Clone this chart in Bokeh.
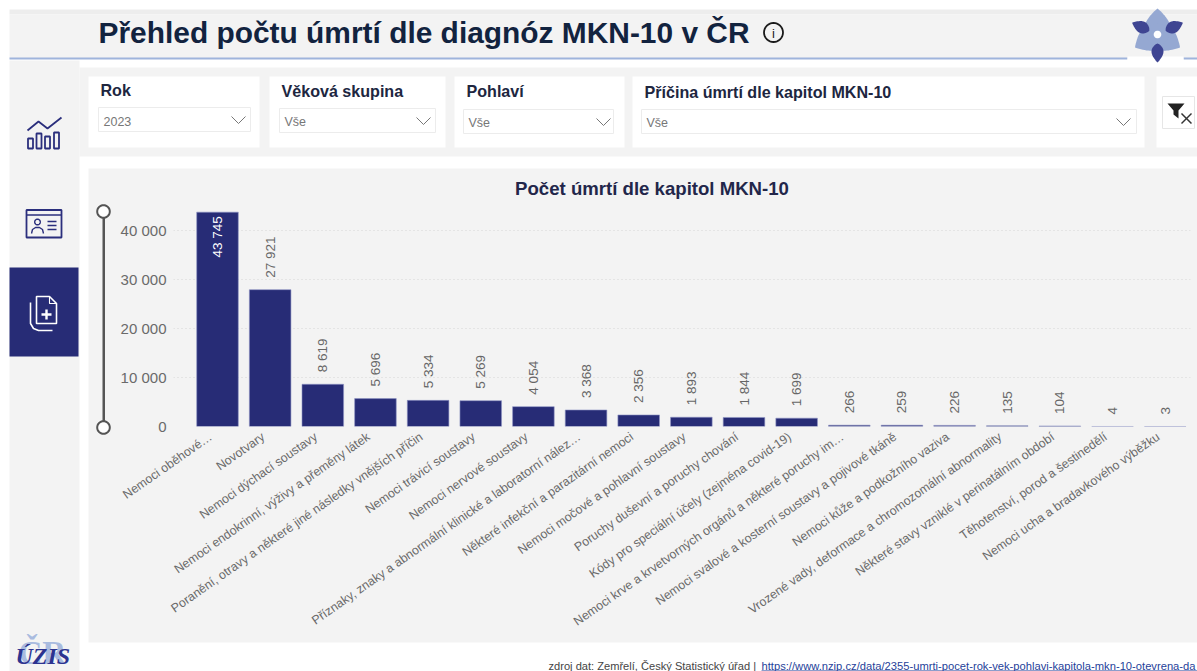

import math
from bokeh.embed import file_html
from bokeh.layouts import column
from bokeh.resources import INLINE
from bokeh.plotting import figure
from bokeh.models import ColumnDataSource, FixedTicker, Range1d, CustomJSTickFormatter
from bokeh.core.properties import value

categories = ["Nemoci oběhové…", "Novotvary", "Nemoci dýchací soustavy", "Nemoci endokrinní, výživy a přeměny látek",
              "Poranění, otravy a některé jiné následky vnějších příčin", "Nemoci trávicí soustavy", "Nemoci nervové soustavy",
              "Příznaky, znaky a abnormální klinické a laboratorní nález…", "Některé infekční a parazitární nemoci",
              "Nemoci močové a pohlavní soustavy", "Poruchy duševní a poruchy chování", "Kódy pro speciální účely (zejména covid-19)",
              "Nemoci krve a krvetvorných orgánů a některé poruchy im…", "Nemoci svalové a kosterní soustavy a pojivové tkáně",
              "Nemoci kůže a podkožního vaziva", "Vrozené vady, deformace a chromozomální abnormality",
              "Některé stavy vzniklé v perinatálním období", "Těhotenství, porod a šestinedělí", "Nemoci ucha a bradavkového výběžku"]
deaths = [43745, 27921, 8619, 5696, 5334, 5269, 4054, 3368, 2356, 1893, 1844, 1699, 266, 259, 226, 135, 104, 4, 3]
y_ticks = [0, 10000, 20000, 30000, 40000]
title = "Přehled počtu úmrtí dle diagnóz MKN-10 v ČR"
chart_title = "Počet úmrtí dle kapitol MKN-10"
filters = ["Rok", "Věková skupina", "Pohlaví", "Příčina úmrtí dle kapitol MKN-10"]
filter_values = ["2023", "Vše", "Vše", "Vše"]
footer = "zdroj dat: Zemřelí, Český Statistický úřad | "
footer_url = "https://www.nzip.cz/data/2355-umrti-pocet-rok-vek-pohlavi-kapitola-mkn-10-otevrena-da"

W, H = 1197, 671
FL, FR, FT, FB = 173, 1190, 205, 426   # chart frame edges in window px
NAVY = "#272c76"
PANEL = "#f3f3f3"
FONT = "Liberation Sans"


def fmt(v):
    return f"{v:,}".replace(",", " ")


# ---------- page furniture, drawn in a figure whose data units are window pixels ----------
bg = figure(width=W, height=H, output_backend="svg", toolbar_location=None, x_range=Range1d(0, W), y_range=Range1d(H, 0),
            min_border=0, background_fill_color="white", border_fill_color="white", outline_line_color=None)
bg.axis.visible = False
bg.grid.visible = False


def box(x0, y0, x1, y1, fill, line=None, lw=1):
    bg.quad(left=[x0], right=[x1], top=[y0], bottom=[y1], fill_color=fill, fill_alpha=1 if fill else 0,
            line_color=line, line_alpha=1 if line else 0, line_width=lw)


def poly(pts, fill=None, line=None, lw=1):
    bg.patch([a for a, _ in pts], [b for _, b in pts], fill_color=fill, fill_alpha=1 if fill else 0,
             line_color=line, line_alpha=1 if line else 0, line_width=lw)


def path(pts, color, lw=1.5):
    bg.line([a for a, _ in pts], [b for _, b in pts], line_color=color, line_width=lw)


def circle(cx, cy, r, fill=None, line=None, lw=1):
    poly([(cx + r*math.cos(i*math.pi/16), cy + r*math.sin(i*math.pi/16)) for i in range(32)], fill, line, lw)


def text(x, y, s, size, color, bold=False, align="left", base="middle", font=FONT, style=None):
    bg.text(x=[x], y=[y], text=[s], text_font=value(font), text_font_size=f"{size}px", text_color=color,
            text_align=align, text_baseline=base, text_font_style=style or ("bold" if bold else "normal"))


box(9, 9, 1197, 14, "#ededed")
box(9, 14, 1197, 58, PANEL)
box(9, 57, 1127, 59, "#9fb4dc")
box(1183, 57, 1197, 59, "#9fb4dc")
box(9, 60, 79, 671, PANEL)
box(79, 67, 1197, 156, PANEL)
for x0, x1 in [(88, 259), (269, 445), (454, 624), (632, 1144), (1156, 1197)]:
    box(x0, 76, x1, 147, "white")
box(88, 168, 1197, 642, PANEL)
box(9, 267, 78, 356, NAVY)

text(98, 32, title, 29.9, "#12233f", bold=True)
circle(773, 32, 9.5, None, "#1a1a1a", 1.8)
text(773, 32.5, "i", 13, "#1a1a1a", align="center")
text(651.5, 188, chart_title, 18.6, "#22264a", bold=True, align="center")

for s, x, y in zip(filters, [100, 281, 466, 644], [89, 90, 90, 91]):
    text(x, y, s, 16.1, "#20263f", bold=True)
for x0, x1, y0, y1, cx in [(98, 250, 107, 131, 238), (279, 435, 108, 132, 423), (463, 613, 109, 133, 603), (641, 1136, 109, 133, 1123)]:
    box(x0, y0, x1, y1, "white", "#ececec", 1)
    path([(cx-7, (y0+y1)/2-3), (cx, (y0+y1)/2+4), (cx+7, (y0+y1)/2-3)], "#777777", 1)
for s, x, y in zip(filter_values, [103, 284, 468, 646], [120.5, 121.5, 122, 122.5]):
    text(x, y, s, 12.5, "#777777")
box(1162, 96, 1194, 128, "white", "#e6e6e6", 1)
poly([(1167, 103), (1184, 103), (1178, 110), (1178, 118), (1173, 114), (1173, 110)], "#222222")
path([(1181, 113), (1191, 123)], "#333333", 1.5)
path([(1191, 113), (1181, 123)], "#333333", 1.5)

# slider
box(102, 211, 104.5, 427, "#555555")
circle(103, 211, 6.3, "white", "#555555", 2)
circle(103, 427, 6.3, "white", "#555555", 2)


# flower logo
def petal(cx, cy, ang, r0, r1, width, color):
    a = math.radians(ang)
    ux, uy = math.cos(a), math.sin(a)
    vx, vy = -uy, ux
    ts = [i/24 for i in range(25)]
    prof = [width*math.sin(math.pi*t**0.8)**0.9 for t in ts]
    pts = [(cx+ux*(r0+(r1-r0)*t)+vx*w, cy+uy*(r0+(r1-r0)*t)+vy*w) for t, w in zip(ts, prof)]
    pts += [(cx+ux*(r0+(r1-r0)*t)-vx*w, cy+uy*(r0+(r1-r0)*t)-vy*w) for t, w in zip(ts[::-1], prof[::-1])]
    poly(pts, color)


LB, DB = "#95a8d2", "#3f4592"
box(1127, 56, 1183, 60, "white")
for ang in (-90, 30, 150):
    petal(1157, 34, ang, -8, 26, 13, LB)
circle(1157, 34, 11, LB)
for ang in (-155, -25, 90):
    petal(1157, 34, ang, 9, 28, 6, DB)
circle(1157, 34, 3.8, "white")

# sidebar icons
ic = "#2b2f7d"
path([(27, 130), (38, 121), (47, 128), (61, 117)], ic, 1.8)
for x0, y0, x1 in [(27.5, 138, 32.5), (36, 133, 41), (44.5, 136, 49.5), (53.5, 132, 58.5)]:
    box(x0, y0, x1, 148, None, ic, 1.8)
box(26, 209.5, 61, 237, None, ic, 1.8)
path([(26, 214.5), (61, 214.5)], ic, 1.4)
circle(37, 221.5, 2.8, None, ic, 1.4)
path([(31, 233), (32, 229), (35, 227), (39, 227), (42, 229), (43, 233)], ic, 1.4)
for y in (221, 225, 229):
    path([(47, y), (56, y)], ic, 1.3)
poly([(36, 296), (49, 296), (56, 303), (56, 323), (36, 323)], None, "white", 1.6)
path([(49, 296), (49, 303), (56, 303)], "white", 1.1)
path([(30, 302), (30, 323), (33, 328), (38, 330), (52, 330)], "white", 1.6)
path([(46, 309), (46, 319)], "white", 2.4)
path([(41, 314), (51, 314)], "white", 2.4)

# ÚZIS mark
text(18, 652, "ČR", 33, "#a9bbdf", bold=True, font="Liberation Serif")
text(15, 655, "ÚZIS", 24, "#2c3390", font="Liberation Serif", style="bold italic")

# footer
text(548, 665, footer, 11.1, "#444444")
text(761, 665, footer_url, 11.2, "#1f3f9a")
box(761, 670, 1197, 671, "#1f3f9a")

# ---------- the chart itself, laid transparently over the page ----------
p = figure(width=W, height=H, output_backend="svg", toolbar_location=None,
           x_range=Range1d((FL-217)/52.65, (FR-217)/52.65), y_range=Range1d(0, (FB-FT)/0.0049),
           min_border_left=FL, min_border_right=W-FR, min_border_top=FT, min_border_bottom=H-FB,
           background_fill_color=None, border_fill_color=None, outline_line_color=None,
           styles={"position": "absolute", "left": "0px", "top": "0px"})

src = ColumnDataSource(dict(x=list(range(len(categories))), deaths=deaths, labels=[fmt(v) for v in deaths]))
p.vbar(x="x", top="deaths", width=0.79, bottom=0, source=src, fill_color=NAVY, line_color="#8f93c4", line_width=0.6)
outside = ColumnDataSource(dict(x=src.data["x"][1:], y=deaths[1:], t=src.data["labels"][1:]))
p.text(x="x", y="y", text="t", source=outside, angle=math.pi/2, y_offset=-12, text_align="left", text_baseline="middle",
       text_font=value(FONT), text_font_size="13.5px", text_color="#666666")
inside = ColumnDataSource(dict(x=[0], y=deaths[:1], t=src.data["labels"][:1]))
p.text(x="x", y="y", text="t", source=inside, angle=math.pi/2, y_offset=4, text_align="right", text_baseline="middle",
       text_font=value(FONT), text_font_size="13.5px", text_color="white")

p.xgrid.visible = False
p.ygrid.grid_line_color = "#d4d4d4"
p.ygrid.grid_line_dash = "1 3"
p.ygrid.ticker = FixedTicker(ticks=y_ticks)
p.yaxis.ticker = FixedTicker(ticks=y_ticks)
p.yaxis.formatter = CustomJSTickFormatter(code="return tick.toString().replace(/\\B(?=(\\d{3})+(?!\\d))/g,' ');")
p.yaxis.axis_line_color = None
p.yaxis.major_tick_line_color = None
p.yaxis.minor_tick_line_color = None
p.yaxis.major_label_standoff = 1
p.yaxis.major_label_text_font = FONT
p.yaxis.major_label_text_font_size = "15px"
p.yaxis.major_label_text_color = "#6a6a6a"
label_ticks = [round(i - 0.13, 2) for i in range(len(categories))]
p.xaxis.ticker = FixedTicker(ticks=label_ticks)
p.xaxis.major_label_overrides = dict(zip(label_ticks, categories))
p.xaxis.axis_line_color = None
p.xaxis.major_tick_line_color = None
p.xaxis.minor_tick_line_color = None
p.xaxis.major_label_orientation = math.radians(35)
p.xaxis.major_label_standoff = 3
p.xaxis.major_label_text_font = FONT
p.xaxis.major_label_text_font_size = "12.4px"
p.xaxis.major_label_text_color = "#6a6a6a"

page = column(column(bg), p, spacing=0)
open("out.html", "w").write(file_html(page, INLINE))
